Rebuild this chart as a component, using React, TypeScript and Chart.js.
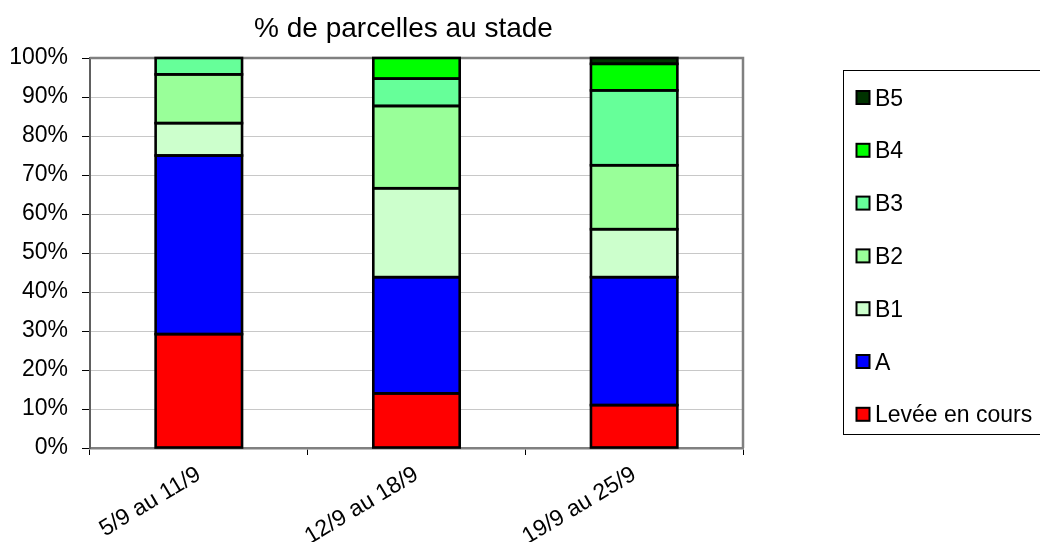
import React, { useEffect, useRef } from "react";
import { Chart, registerables } from "chart.js";

Chart.register(...registerables);

const TITLE = "% de parcelles au stade";
const CATEGORIES = ["5/9 au 11/9", "12/9 au 18/9", "19/9 au 25/9"];
const SERIES_LABELS = ["Levée en cours", "A", "B1", "B2", "B3", "B4", "B5"];
const SERIES_COLORS = ["#FF0000", "#0000FF", "#CCFFCC", "#99FF99", "#66FF99", "#00FF00", "#003300"];

const LEVEE = [29.2, 14.0, 11.0];
const STADE_A = [45.8, 29.8, 32.8];
const STADE_B1 = [8.3, 22.8, 12.3];
const STADE_B2 = [12.5, 21.1, 16.4];
const STADE_B3 = [4.2, 7.0, 19.2];
const STADE_B4 = [0, 5.3, 6.8];
const STADE_B5 = [0, 0, 1.5];
const SERIES_VALUES = [LEVEE, STADE_A, STADE_B1, STADE_B2, STADE_B3, STADE_B4, STADE_B5];

const Y_MIN = 0;
const Y_MAX = 100;
const Y_STEP = 10;

const FONT = '"Liberation Sans", Arial, sans-serif';

const decorPlugin = {
  id: "decor",
  beforeDatasetsDraw(chart: any) {
    const { ctx, chartArea: a } = chart;
    ctx.save();
    ctx.strokeStyle = "#808080";
    ctx.lineWidth = 2.5;
    ctx.beginPath();
    ctx.moveTo(a.left, a.top);
    ctx.lineTo(a.right, a.top);
    ctx.lineTo(a.right, a.bottom);
    ctx.stroke();
    ctx.restore();
  },
  afterDatasetsDraw(chart: any) {
    const { ctx } = chart;
    ctx.save();
    ctx.strokeStyle = "#000";
    ctx.lineWidth = 2.6;
    ctx.lineJoin = "miter";
    chart.data.datasets.forEach((_d: any, i: number) => {
      const meta = chart.getDatasetMeta(i);
      meta.data.forEach((bar: any) => {
        const { x, y, base, width } = bar.getProps(["x", "y", "base", "width"], true);
        const h = base - y;
        if (Math.abs(h) < 0.01) return;
        ctx.strokeRect(x - width / 2, y, width, h);
      });
    });
    ctx.restore();
  },
  afterDraw(chart: any) {
    const { ctx } = chart;
    ctx.save();
    // title
    ctx.fillStyle = "#000";
    ctx.font = `28px ${FONT}`;
    ctx.textAlign = "center";
    ctx.textBaseline = "alphabetic";
    ctx.fillText(TITLE, 403.5, 36.5);

    // legend
    ctx.strokeStyle = "#000";
    ctx.lineWidth = 1;
    ctx.strokeRect(843.5, 70.5, 210, 364);
    const ds = chart.data.datasets;
    ctx.font = `23px ${FONT}`;
    ctx.textAlign = "left";
    for (let k = 0; k < ds.length; k++) {
      const d = ds[ds.length - 1 - k];
      const cy = 98 + k * 52.8;
      ctx.fillStyle = d.backgroundColor;
      ctx.fillRect(856.5, cy - 7, 13, 13);
      ctx.lineWidth = 2;
      ctx.strokeStyle = "#000";
      ctx.strokeRect(856.5, cy - 7, 13, 13);
      ctx.fillStyle = "#000";
      ctx.fillText(d.label, 875, cy + 7.5);
    }
    ctx.restore();
  },
};

export default function App() {
  const ref = useRef<HTMLCanvasElement>(null);

  useEffect(() => {
    document.body.style.margin = "0";
    const canvas = ref.current;
    if (!canvas) return;
    const chart = new Chart(canvas, {
      type: "bar",
      data: {
        labels: CATEGORIES,
        datasets: SERIES_LABELS.map((label, i) => ({
          label,
          data: SERIES_VALUES[i],
          backgroundColor: SERIES_COLORS[i],
          borderColor: "#000000",
          borderWidth: 0,
          inflateAmount: 0,
          categoryPercentage: 1,
          barPercentage: 0.397,
        })),
      },
      options: {
        animation: false,
        responsive: false,
        devicePixelRatio: 1,
        layout: { padding: { left: 0, right: 297, top: 58, bottom: 0 } },
        plugins: {
          legend: { display: false },
          title: { display: false },
          tooltip: { enabled: false },
        },
        scales: {
          x: {
            stacked: true,
            offset: true,
            grid: {
              offset: true,
              drawOnChartArea: false,
              tickColor: "#000",
              tickLength: 7,
              lineWidth: 1,
            },
            border: { color: "#808080", width: 2.5 },
            ticks: {
              color: "#000",
              font: { family: FONT, size: 23 },
              minRotation: 31,
              maxRotation: 31,
              autoSkip: false,
              padding: 6,
            },
            afterFit(scale: any) {
              scale.height = 94;
            },
          },
          y: {
            stacked: true,
            min: Y_MIN,
            max: Y_MAX,
            grid: {
              color: "#c8c8c8",
              lineWidth: 1,
              tickColor: "#000",
              tickLength: 8,
            },
            border: { color: "#606060", width: 2 },
            ticks: {
              stepSize: Y_STEP,
              color: "#000",
              font: { family: FONT, size: 23 },
              padding: 14,
              callback: (v: any) => `${v}%`,
            },
            afterFit(scale: any) {
              scale.width = 90;
            },
          },
        },
      },
      plugins: [decorPlugin],
    });
    return () => chart.destroy();
  }, []);

  return (
    <div style={{ width: 1040, height: 542 }}>
      <canvas ref={ref} width={1040} height={542} />
    </div>
  );
}
